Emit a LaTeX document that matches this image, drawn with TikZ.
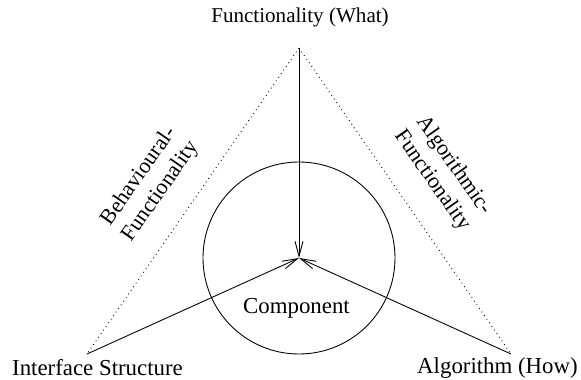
\documentclass[tikz,border=0pt]{standalone}
\usepackage{fontspec}
\setmainfont{Liberation Serif}
\usetikzlibrary{positioning}
\usetikzlibrary{arrows.meta}

\begin{document}
\begin{tikzpicture}[
	textnode/.style={font=\fontsize{13}{15.5}\selectfont, inner sep=0pt},
	sidelabel/.style={textnode, font=\fontsize{12.5}{15}\selectfont, align=center},
	spoke/.style={line width=0.5pt, -{Straight Barb[length=3mm,width=1.6mm]}},
	side/.style={line width=0.5pt, dotted},
	]
	\useasboundingbox (0,0) rectangle (11.62,7.58);
	%Corners
	\coordinate (top)   at (5.98,6.62);
	\coordinate (hub)   at (5.98,2.42);
	\coordinate (left)  at (1.74,0.50);
	\coordinate (right) at (10.22,0.50);
	%Nodes
	\node[textnode, font=\fontsize{12}{14}\selectfont] (what) at (6.00,7.24) {Functionality (What)};
	\node[textnode]  (iface) at (1.95,0.22)  {Interface Structure};
	\node[textnode]  (how)   at (9.95,0.22)  {Algorithm (How)};
	\node[textnode]  (comp)  at (5.93,1.42)  {Component};
	\node[sidelabel, rotate=55]  (behav) at (3.00,3.90) {Behavioural-\\Functionality};
	\node[sidelabel, rotate=-55] (algo)  at (8.86,4.12) {Algorithmic-\\Functionality};

	%Circle
	\draw[line width=0.5pt] (hub) circle (1.92);
	%Lines
	\draw[side] (top) -- (left);
	\draw[side] (top) -- (right);
	\draw[spoke] (top) -- (hub);
	\draw[spoke] (left) -- (hub);
	\draw[spoke] (right) -- (hub);
\end{tikzpicture}
\end{document}
